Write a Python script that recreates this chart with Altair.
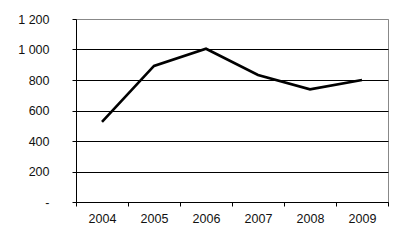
import altair as alt
import pandas as pd

years = ["2004", "2005", "2006", "2007", "2008", "2009"]
values = [525, 892, 1005, 833, 739, 800]

df = pd.DataFrame({"year": years, "value": values})

chart = alt.Chart(df).mark_line(color="black", strokeWidth=2.6).encode(
    x=alt.X("year:N", sort=years, title=None,
            scale=alt.Scale(paddingInner=0, paddingOuter=0),
            axis=alt.Axis(labelAngle=0, tickBand="extent", domainColor="black",
                          tickColor="black", tickSize=4, labelPadding=6,
                          labelFont="Liberation Sans", labelFontSize=12.5,
                          labelColor="#111", grid=False)),
    y=alt.Y("value:Q", title=None,
            scale=alt.Scale(domain=[0, 1200], nice=False),
            axis=alt.Axis(values=[0, 200, 400, 600, 800, 1000, 1200],
                          labelExpr="datum.value == 0 ? '-' : replace(format(datum.value, ','), ',', ' ')",
                          domainColor="black", tickColor="black", tickSize=4,
                          labelPadding=23, labelFont="Liberation Sans",
                          labelFontSize=12.5, labelColor="#111",
                          grid=True,
                          gridColor={"condition": {"test": "datum.value == 1200", "value": "#888888"}, "value": "black"},
                          gridOpacity=1)),
).properties(
    width=312, height=183,
    autosize=alt.AutoSizeParams(type="none"),
    padding={"left": 76, "top": 19, "right": 9, "bottom": 45},
).configure_view(stroke="#888888", strokeWidth=1)

chart.save("out.html", embed_options={"renderer": "svg", "actions": False})
